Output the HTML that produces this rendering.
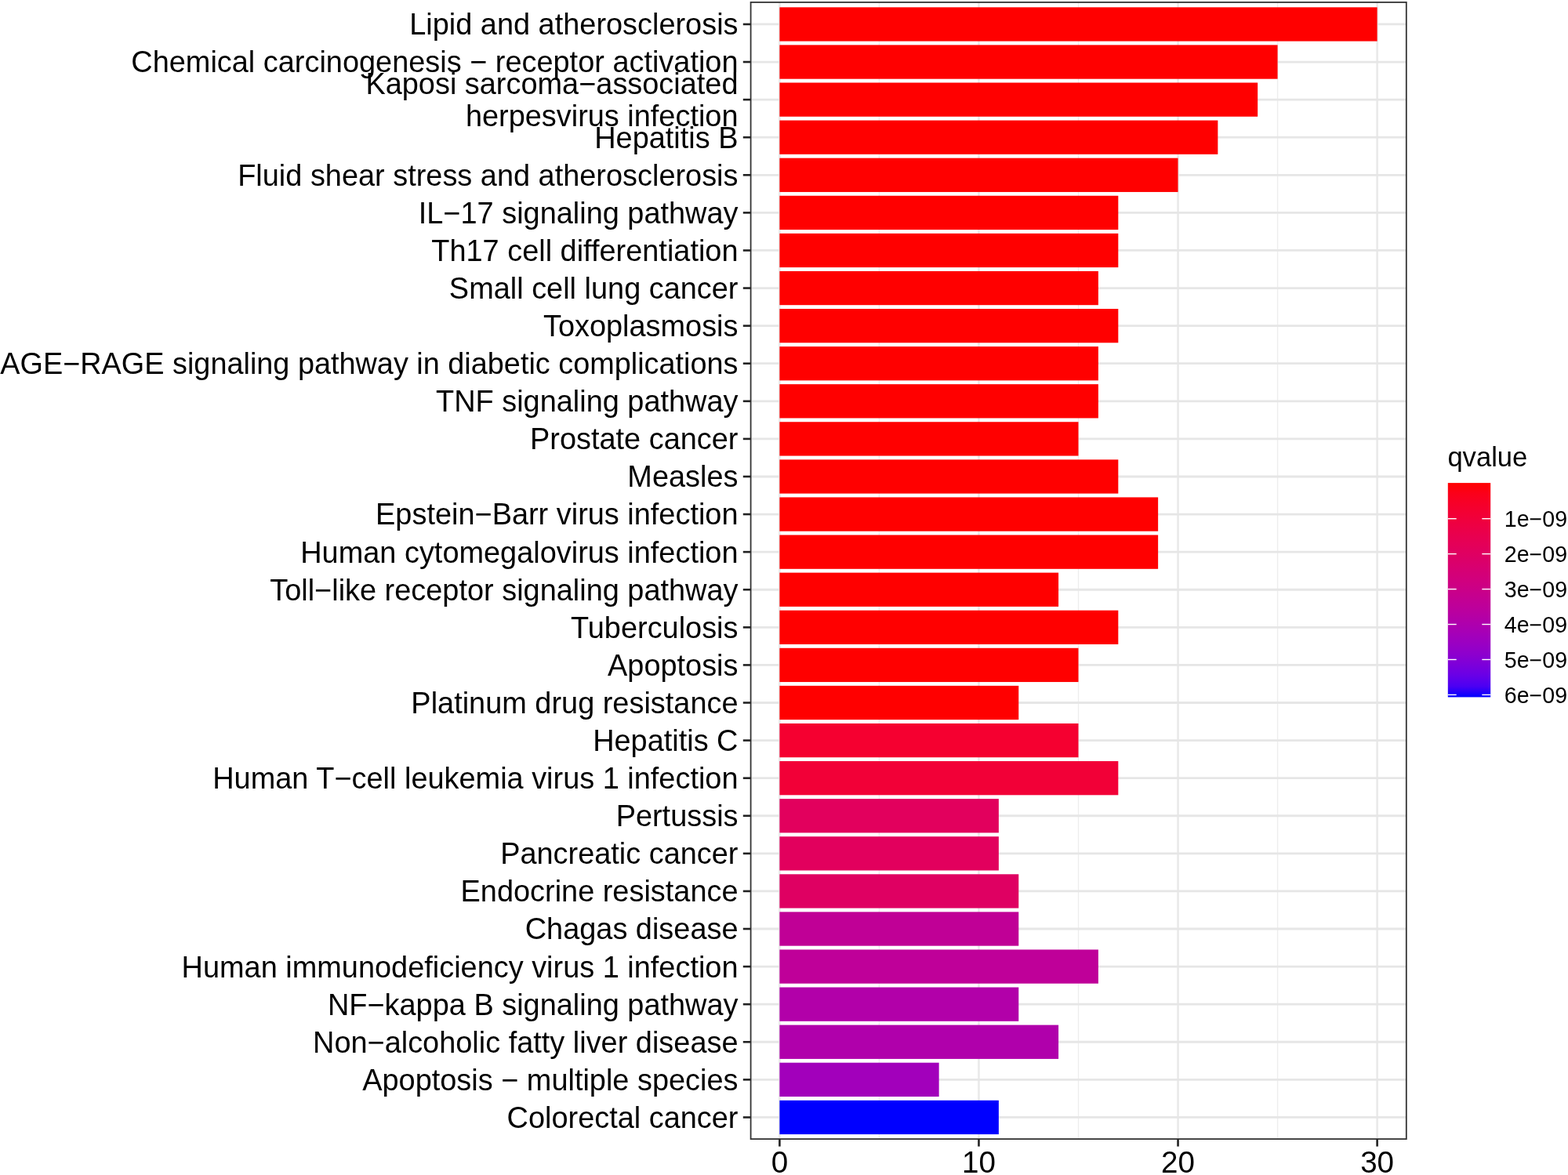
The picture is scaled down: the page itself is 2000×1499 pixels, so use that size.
<!DOCTYPE html><html><head><meta charset="utf-8"><title>KEGG enrichment</title><style>
html,body{margin:0;padding:0;background:#fff;width:2000px;height:1499px;overflow:hidden}
svg{display:block}
text{font-family:"Liberation Sans",Arial,Helvetica,sans-serif;fill:#000}
</style></head><body>
<svg width="2000" height="1499" viewBox="0 0 2000 1499">
<rect x="0" y="0" width="2000" height="1499" fill="#fff"/>
<line x1="1121.43" y1="2.90" x2="1121.43" y2="1453.10" stroke="#EDEDED" stroke-width="1.4"/><line x1="1375.51" y1="2.90" x2="1375.51" y2="1453.10" stroke="#EDEDED" stroke-width="1.4"/><line x1="1629.57" y1="2.90" x2="1629.57" y2="1453.10" stroke="#EDEDED" stroke-width="1.4"/><line x1="994.40" y1="2.90" x2="994.40" y2="1453.10" stroke="#EAEAEA" stroke-width="2.7"/><line x1="1248.47" y1="2.90" x2="1248.47" y2="1453.10" stroke="#EAEAEA" stroke-width="2.7"/><line x1="1502.54" y1="2.90" x2="1502.54" y2="1453.10" stroke="#EAEAEA" stroke-width="2.7"/><line x1="1756.61" y1="2.90" x2="1756.61" y2="1453.10" stroke="#EAEAEA" stroke-width="2.7"/><line x1="957.60" y1="30.95" x2="1793.80" y2="30.95" stroke="#E6E6E6" stroke-width="2.8"/><line x1="957.60" y1="79.04" x2="1793.80" y2="79.04" stroke="#E6E6E6" stroke-width="2.8"/><line x1="957.60" y1="127.12" x2="1793.80" y2="127.12" stroke="#E6E6E6" stroke-width="2.8"/><line x1="957.60" y1="175.21" x2="1793.80" y2="175.21" stroke="#E6E6E6" stroke-width="2.8"/><line x1="957.60" y1="223.29" x2="1793.80" y2="223.29" stroke="#E6E6E6" stroke-width="2.8"/><line x1="957.60" y1="271.38" x2="1793.80" y2="271.38" stroke="#E6E6E6" stroke-width="2.8"/><line x1="957.60" y1="319.47" x2="1793.80" y2="319.47" stroke="#E6E6E6" stroke-width="2.8"/><line x1="957.60" y1="367.55" x2="1793.80" y2="367.55" stroke="#E6E6E6" stroke-width="2.8"/><line x1="957.60" y1="415.64" x2="1793.80" y2="415.64" stroke="#E6E6E6" stroke-width="2.8"/><line x1="957.60" y1="463.72" x2="1793.80" y2="463.72" stroke="#E6E6E6" stroke-width="2.8"/><line x1="957.60" y1="511.81" x2="1793.80" y2="511.81" stroke="#E6E6E6" stroke-width="2.8"/><line x1="957.60" y1="559.90" x2="1793.80" y2="559.90" stroke="#E6E6E6" stroke-width="2.8"/><line x1="957.60" y1="607.98" x2="1793.80" y2="607.98" stroke="#E6E6E6" stroke-width="2.8"/><line x1="957.60" y1="656.07" x2="1793.80" y2="656.07" stroke="#E6E6E6" stroke-width="2.8"/><line x1="957.60" y1="704.15" x2="1793.80" y2="704.15" stroke="#E6E6E6" stroke-width="2.8"/><line x1="957.60" y1="752.24" x2="1793.80" y2="752.24" stroke="#E6E6E6" stroke-width="2.8"/><line x1="957.60" y1="800.33" x2="1793.80" y2="800.33" stroke="#E6E6E6" stroke-width="2.8"/><line x1="957.60" y1="848.41" x2="1793.80" y2="848.41" stroke="#E6E6E6" stroke-width="2.8"/><line x1="957.60" y1="896.50" x2="1793.80" y2="896.50" stroke="#E6E6E6" stroke-width="2.8"/><line x1="957.60" y1="944.58" x2="1793.80" y2="944.58" stroke="#E6E6E6" stroke-width="2.8"/><line x1="957.60" y1="992.67" x2="1793.80" y2="992.67" stroke="#E6E6E6" stroke-width="2.8"/><line x1="957.60" y1="1040.76" x2="1793.80" y2="1040.76" stroke="#E6E6E6" stroke-width="2.8"/><line x1="957.60" y1="1088.84" x2="1793.80" y2="1088.84" stroke="#E6E6E6" stroke-width="2.8"/><line x1="957.60" y1="1136.93" x2="1793.80" y2="1136.93" stroke="#E6E6E6" stroke-width="2.8"/><line x1="957.60" y1="1185.01" x2="1793.80" y2="1185.01" stroke="#E6E6E6" stroke-width="2.8"/><line x1="957.60" y1="1233.10" x2="1793.80" y2="1233.10" stroke="#E6E6E6" stroke-width="2.8"/><line x1="957.60" y1="1281.19" x2="1793.80" y2="1281.19" stroke="#E6E6E6" stroke-width="2.8"/><line x1="957.60" y1="1329.27" x2="1793.80" y2="1329.27" stroke="#E6E6E6" stroke-width="2.8"/><line x1="957.60" y1="1377.36" x2="1793.80" y2="1377.36" stroke="#E6E6E6" stroke-width="2.8"/><line x1="957.60" y1="1425.44" x2="1793.80" y2="1425.44" stroke="#E6E6E6" stroke-width="2.8"/>
<rect x="994.40" y="9.31" width="762.21" height="43.28" fill="#FF0000"/><rect x="994.40" y="57.40" width="635.17" height="43.28" fill="#FF0000"/><rect x="994.40" y="105.48" width="609.77" height="43.28" fill="#FF0000"/><rect x="994.40" y="153.57" width="558.95" height="43.28" fill="#FF0000"/><rect x="994.40" y="201.66" width="508.14" height="43.28" fill="#FF0000"/><rect x="994.40" y="249.74" width="431.92" height="43.28" fill="#FF0000"/><rect x="994.40" y="297.83" width="431.92" height="43.28" fill="#FF0000"/><rect x="994.40" y="345.91" width="406.51" height="43.28" fill="#FF0000"/><rect x="994.40" y="394.00" width="431.92" height="43.28" fill="#FF0000"/><rect x="994.40" y="442.09" width="406.51" height="43.28" fill="#FF0000"/><rect x="994.40" y="490.17" width="406.51" height="43.28" fill="#FF0000"/><rect x="994.40" y="538.26" width="381.11" height="43.28" fill="#FF0000"/><rect x="994.40" y="586.34" width="431.92" height="43.28" fill="#FF0000"/><rect x="994.40" y="634.43" width="482.73" height="43.28" fill="#FF0000"/><rect x="994.40" y="682.52" width="482.73" height="43.28" fill="#FF0000"/><rect x="994.40" y="730.60" width="355.70" height="43.28" fill="#FF0000"/><rect x="994.40" y="778.69" width="431.92" height="43.28" fill="#FF0000"/><rect x="994.40" y="826.77" width="381.11" height="43.28" fill="#FF0000"/><rect x="994.40" y="874.86" width="304.88" height="43.28" fill="#FF0000"/><rect x="994.40" y="922.95" width="381.11" height="43.28" fill="#F50030"/><rect x="994.40" y="971.03" width="431.92" height="43.28" fill="#F20037"/><rect x="994.40" y="1019.12" width="279.48" height="43.28" fill="#E2005D"/><rect x="994.40" y="1067.20" width="279.48" height="43.28" fill="#E2005D"/><rect x="994.40" y="1115.29" width="304.88" height="43.28" fill="#DF0062"/><rect x="994.40" y="1163.38" width="304.88" height="43.28" fill="#C00096"/><rect x="994.40" y="1211.46" width="406.51" height="43.28" fill="#BF0099"/><rect x="994.40" y="1259.55" width="304.88" height="43.28" fill="#B200A9"/><rect x="994.40" y="1307.63" width="355.70" height="43.28" fill="#B000AB"/><rect x="994.40" y="1355.72" width="203.26" height="43.28" fill="#A200BB"/><rect x="994.40" y="1403.81" width="279.48" height="43.28" fill="#0000FF"/>
<rect x="957.6" y="2.9" width="836.20" height="1450.20" fill="none" stroke="#333" stroke-width="1.8"/>
<line x1="947.8" y1="30.95" x2="957.60" y2="30.95" stroke="#222" stroke-width="2.6"/><line x1="947.8" y1="79.04" x2="957.60" y2="79.04" stroke="#222" stroke-width="2.6"/><line x1="947.8" y1="127.12" x2="957.60" y2="127.12" stroke="#222" stroke-width="2.6"/><line x1="947.8" y1="175.21" x2="957.60" y2="175.21" stroke="#222" stroke-width="2.6"/><line x1="947.8" y1="223.29" x2="957.60" y2="223.29" stroke="#222" stroke-width="2.6"/><line x1="947.8" y1="271.38" x2="957.60" y2="271.38" stroke="#222" stroke-width="2.6"/><line x1="947.8" y1="319.47" x2="957.60" y2="319.47" stroke="#222" stroke-width="2.6"/><line x1="947.8" y1="367.55" x2="957.60" y2="367.55" stroke="#222" stroke-width="2.6"/><line x1="947.8" y1="415.64" x2="957.60" y2="415.64" stroke="#222" stroke-width="2.6"/><line x1="947.8" y1="463.72" x2="957.60" y2="463.72" stroke="#222" stroke-width="2.6"/><line x1="947.8" y1="511.81" x2="957.60" y2="511.81" stroke="#222" stroke-width="2.6"/><line x1="947.8" y1="559.90" x2="957.60" y2="559.90" stroke="#222" stroke-width="2.6"/><line x1="947.8" y1="607.98" x2="957.60" y2="607.98" stroke="#222" stroke-width="2.6"/><line x1="947.8" y1="656.07" x2="957.60" y2="656.07" stroke="#222" stroke-width="2.6"/><line x1="947.8" y1="704.15" x2="957.60" y2="704.15" stroke="#222" stroke-width="2.6"/><line x1="947.8" y1="752.24" x2="957.60" y2="752.24" stroke="#222" stroke-width="2.6"/><line x1="947.8" y1="800.33" x2="957.60" y2="800.33" stroke="#222" stroke-width="2.6"/><line x1="947.8" y1="848.41" x2="957.60" y2="848.41" stroke="#222" stroke-width="2.6"/><line x1="947.8" y1="896.50" x2="957.60" y2="896.50" stroke="#222" stroke-width="2.6"/><line x1="947.8" y1="944.58" x2="957.60" y2="944.58" stroke="#222" stroke-width="2.6"/><line x1="947.8" y1="992.67" x2="957.60" y2="992.67" stroke="#222" stroke-width="2.6"/><line x1="947.8" y1="1040.76" x2="957.60" y2="1040.76" stroke="#222" stroke-width="2.6"/><line x1="947.8" y1="1088.84" x2="957.60" y2="1088.84" stroke="#222" stroke-width="2.6"/><line x1="947.8" y1="1136.93" x2="957.60" y2="1136.93" stroke="#222" stroke-width="2.6"/><line x1="947.8" y1="1185.01" x2="957.60" y2="1185.01" stroke="#222" stroke-width="2.6"/><line x1="947.8" y1="1233.10" x2="957.60" y2="1233.10" stroke="#222" stroke-width="2.6"/><line x1="947.8" y1="1281.19" x2="957.60" y2="1281.19" stroke="#222" stroke-width="2.6"/><line x1="947.8" y1="1329.27" x2="957.60" y2="1329.27" stroke="#222" stroke-width="2.6"/><line x1="947.8" y1="1377.36" x2="957.60" y2="1377.36" stroke="#222" stroke-width="2.6"/><line x1="947.8" y1="1425.44" x2="957.60" y2="1425.44" stroke="#222" stroke-width="2.6"/><line x1="994.40" y1="1453.10" x2="994.40" y2="1462.6" stroke="#222" stroke-width="2.6"/><line x1="1248.47" y1="1453.10" x2="1248.47" y2="1462.6" stroke="#222" stroke-width="2.6"/><line x1="1502.54" y1="1453.10" x2="1502.54" y2="1462.6" stroke="#222" stroke-width="2.6"/><line x1="1756.61" y1="1453.10" x2="1756.61" y2="1462.6" stroke="#222" stroke-width="2.6"/>
<text transform="translate(941.5 44.37) scale(0.982 1.0)" font-size="38.6" text-anchor="end">Lipid and atherosclerosis</text><text transform="translate(941.5 92.45) scale(0.982 1.0)" font-size="38.6" text-anchor="end">Chemical carcinogenesis − receptor activation</text><text transform="translate(941.5 120.14) scale(0.982 1.0)" font-size="38.6" text-anchor="end">Kaposi sarcoma−associated</text><text transform="translate(941.5 160.94) scale(0.982 1.0)" font-size="38.6" text-anchor="end">herpesvirus infection</text><text transform="translate(941.5 188.63) scale(0.982 1.0)" font-size="38.6" text-anchor="end">Hepatitis B</text><text transform="translate(941.5 236.71) scale(0.982 1.0)" font-size="38.6" text-anchor="end">Fluid shear stress and atherosclerosis</text><text transform="translate(941.5 284.80) scale(0.982 1.0)" font-size="38.6" text-anchor="end">IL−17 signaling pathway</text><text transform="translate(941.5 332.88) scale(0.982 1.0)" font-size="38.6" text-anchor="end">Th17 cell differentiation</text><text transform="translate(941.5 380.97) scale(0.982 1.0)" font-size="38.6" text-anchor="end">Small cell lung cancer</text><text transform="translate(941.5 429.06) scale(0.982 1.0)" font-size="38.6" text-anchor="end">Toxoplasmosis</text><text transform="translate(941.5 477.14) scale(0.9805 1.0)" font-size="38.6" text-anchor="end">AGE−RAGE signaling pathway in diabetic complications</text><text transform="translate(941.5 525.23) scale(0.982 1.0)" font-size="38.6" text-anchor="end">TNF signaling pathway</text><text transform="translate(941.5 573.31) scale(0.982 1.0)" font-size="38.6" text-anchor="end">Prostate cancer</text><text transform="translate(941.5 621.40) scale(0.982 1.0)" font-size="38.6" text-anchor="end">Measles</text><text transform="translate(941.5 669.49) scale(0.982 1.0)" font-size="38.6" text-anchor="end">Epstein−Barr virus infection</text><text transform="translate(941.5 717.57) scale(0.982 1.0)" font-size="38.6" text-anchor="end">Human cytomegalovirus infection</text><text transform="translate(941.5 765.66) scale(0.982 1.0)" font-size="38.6" text-anchor="end">Toll−like receptor signaling pathway</text><text transform="translate(941.5 813.74) scale(0.982 1.0)" font-size="38.6" text-anchor="end">Tuberculosis</text><text transform="translate(941.5 861.83) scale(0.982 1.0)" font-size="38.6" text-anchor="end">Apoptosis</text><text transform="translate(941.5 909.92) scale(0.982 1.0)" font-size="38.6" text-anchor="end">Platinum drug resistance</text><text transform="translate(941.5 958.00) scale(0.982 1.0)" font-size="38.6" text-anchor="end">Hepatitis C</text><text transform="translate(941.5 1006.09) scale(0.982 1.0)" font-size="38.6" text-anchor="end">Human T−cell leukemia virus 1 infection</text><text transform="translate(941.5 1054.17) scale(0.982 1.0)" font-size="38.6" text-anchor="end">Pertussis</text><text transform="translate(941.5 1102.26) scale(0.982 1.0)" font-size="38.6" text-anchor="end">Pancreatic cancer</text><text transform="translate(941.5 1150.35) scale(0.982 1.0)" font-size="38.6" text-anchor="end">Endocrine resistance</text><text transform="translate(941.5 1198.43) scale(0.982 1.0)" font-size="38.6" text-anchor="end">Chagas disease</text><text transform="translate(941.5 1246.52) scale(0.982 1.0)" font-size="38.6" text-anchor="end">Human immunodeficiency virus 1 infection</text><text transform="translate(941.5 1294.60) scale(0.982 1.0)" font-size="38.6" text-anchor="end">NF−kappa B signaling pathway</text><text transform="translate(941.5 1342.69) scale(0.982 1.0)" font-size="38.6" text-anchor="end">Non−alcoholic fatty liver disease</text><text transform="translate(941.5 1390.78) scale(0.982 1.0)" font-size="38.6" text-anchor="end">Apoptosis − multiple species</text><text transform="translate(941.5 1438.86) scale(0.982 1.0)" font-size="38.6" text-anchor="end">Colorectal cancer</text><text x="994.40" y="1496.4" font-size="38.6" text-anchor="middle">0</text><text x="1248.47" y="1496.4" font-size="38.6" text-anchor="middle">10</text><text x="1502.54" y="1496.4" font-size="38.6" text-anchor="middle">20</text><text x="1756.61" y="1496.4" font-size="38.6" text-anchor="middle">30</text>
<defs><linearGradient id="gr" x1="0" y1="0" x2="0" y2="1"><stop offset="0.000" stop-color="#FF0000"/><stop offset="0.050" stop-color="#FB001A"/><stop offset="0.100" stop-color="#F6002A"/><stop offset="0.150" stop-color="#F20037"/><stop offset="0.200" stop-color="#ED0044"/><stop offset="0.250" stop-color="#E80050"/><stop offset="0.300" stop-color="#E3005B"/><stop offset="0.350" stop-color="#DD0066"/><stop offset="0.400" stop-color="#D70072"/><stop offset="0.450" stop-color="#D1007D"/><stop offset="0.500" stop-color="#CA0088"/><stop offset="0.550" stop-color="#C20094"/><stop offset="0.600" stop-color="#BA009F"/><stop offset="0.650" stop-color="#B000AB"/><stop offset="0.700" stop-color="#A600B7"/><stop offset="0.750" stop-color="#9A00C3"/><stop offset="0.800" stop-color="#8D00CE"/><stop offset="0.850" stop-color="#7C00DA"/><stop offset="0.900" stop-color="#6800E7"/><stop offset="0.950" stop-color="#4B00F3"/><stop offset="1.000" stop-color="#0000FF"/></linearGradient></defs>
<rect x="1846.8" y="616.1" width="54.40" height="273.30" fill="url(#gr)"/>
<line x1="1846.8" y1="661.70" x2="1857.68" y2="661.70" stroke="#fff" stroke-width="1.4"/><line x1="1890.32" y1="661.70" x2="1901.2" y2="661.70" stroke="#fff" stroke-width="1.4"/><text x="1918.8" y="671.90" font-size="28.6">1e−09</text><line x1="1846.8" y1="706.64" x2="1857.68" y2="706.64" stroke="#fff" stroke-width="1.4"/><line x1="1890.32" y1="706.64" x2="1901.2" y2="706.64" stroke="#fff" stroke-width="1.4"/><text x="1918.8" y="716.84" font-size="28.6">2e−09</text><line x1="1846.8" y1="751.58" x2="1857.68" y2="751.58" stroke="#fff" stroke-width="1.4"/><line x1="1890.32" y1="751.58" x2="1901.2" y2="751.58" stroke="#fff" stroke-width="1.4"/><text x="1918.8" y="761.78" font-size="28.6">3e−09</text><line x1="1846.8" y1="796.52" x2="1857.68" y2="796.52" stroke="#fff" stroke-width="1.4"/><line x1="1890.32" y1="796.52" x2="1901.2" y2="796.52" stroke="#fff" stroke-width="1.4"/><text x="1918.8" y="806.72" font-size="28.6">4e−09</text><line x1="1846.8" y1="841.46" x2="1857.68" y2="841.46" stroke="#fff" stroke-width="1.4"/><line x1="1890.32" y1="841.46" x2="1901.2" y2="841.46" stroke="#fff" stroke-width="1.4"/><text x="1918.8" y="851.66" font-size="28.6">5e−09</text><line x1="1846.8" y1="886.40" x2="1857.68" y2="886.40" stroke="#fff" stroke-width="1.4"/><line x1="1890.32" y1="886.40" x2="1901.2" y2="886.40" stroke="#fff" stroke-width="1.4"/><text x="1918.8" y="896.60" font-size="28.6">6e−09</text>
<text x="1846.4" y="594.8" font-size="34.6">qvalue</text>
</svg></body></html>
